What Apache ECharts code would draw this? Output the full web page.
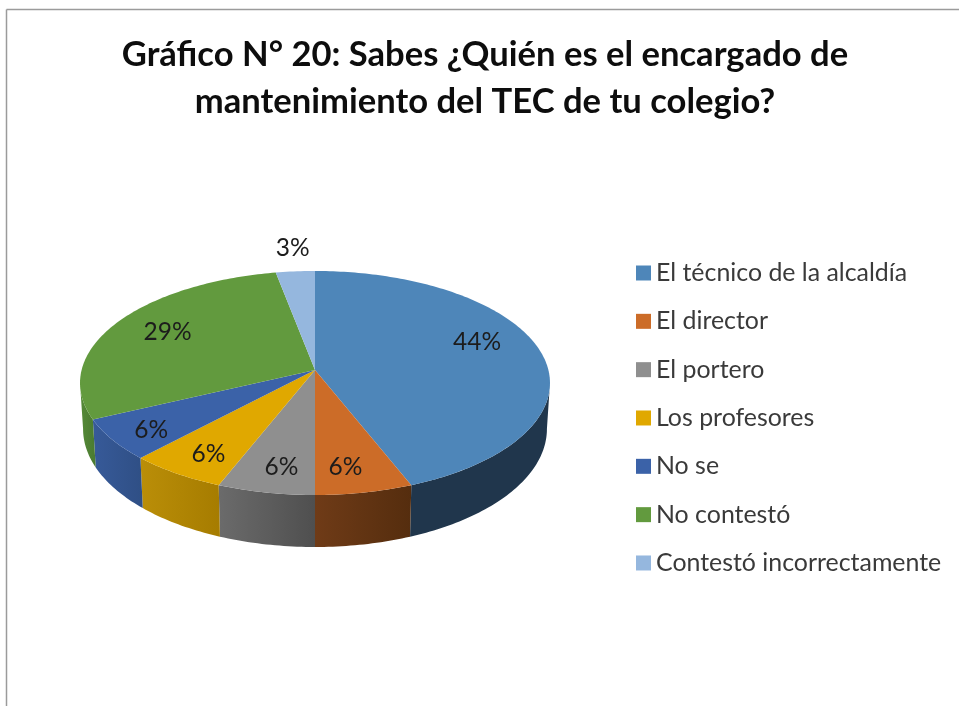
<!DOCTYPE html>
<html>
<head>
<meta charset="utf-8">
<style>html,body{margin:0;padding:0;background:#fff}#c{width:959px;height:706px}</style>
<script src="https://cdn.jsdelivr.net/npm/echarts@6/dist/echarts.min.js"></script>
</head>
<body>
<div id="c"></div>
<script>
const titleText = 'Gráfico N° 20: Sabes ¿Quién es el encargado de\nmantenimiento del TEC de tu colegio?';
const categories = ['El técnico de la alcaldía','El director','El portero','Los profesores','No se','No contestó','Contestó incorrectamente'];
const values = [44, 6, 6, 6, 6, 29, 3];
const topColors = ['#4e86b9','#cc6c28','#8f8f8f','#e0a800','#3b62a8','#629a3e','#95b7de'];
const wallLeft = ['#20364c','#6f3b17','#6b6b6b','#ba8e08','#375a99','#558a38','#6f88a8'];
const wallRight = ['#20364c','#552d0e','#4f4f4f','#a67c00','#2f4f85','#4a7a30','#6f88a8'];
const labelNudge = [[4, -14], [-8, 2], [5, 2], [2, 3], [-4, 5], [-7, -4], [2, 0]];

const total = values.reduce((a, b) => a + b, 0);
const cx = 315, cy = 370, rx = 233.4, ry = 110.5, persp = 0.116;
const sideAngle = Math.acos(-persp);

function project(theta, r) {
  const u = Math.sin(theta) * r, v = -Math.cos(theta) * r;
  const d = 1 - persp * v;
  return [cx + rx * u / d, cy + ry * v / d];
}
function projectBottom(theta) {
  const p = project(theta, 1), v = -Math.cos(theta);
  return [cx + (p[0] - cx) * 0.987, p[1] + 45 + 7 * Math.max(v, 0)];
}
function arc(a0, a1, fn) {
  const n = Math.max(2, Math.ceil((a1 - a0) / (Math.PI / 180)));
  const pts = [];
  for (let i = 0; i <= n; i++) pts.push(fn(a0 + (a1 - a0) * i / n));
  return pts;
}
function labelRadius(v) { return v < 5 ? 1.27 : (v > 20 ? 0.7 : 0.8); }

function makeRender(idx) {
  const before = values.slice(0, idx).reduce((a, b) => a + b, 0);
  return function (params, api) {
    const val = api.value(0);
    const a0 = before / total * Math.PI * 2;
    const a1 = (before + val) / total * Math.PI * 2;
    const mid = (a0 + a1) / 2;
    const lp = project(mid, labelRadius(val));
    const children = [];
    const w0 = Math.max(a0, sideAngle), w1 = Math.min(a1, Math.PI * 2 - sideAngle);
    if (w1 > w0) {
      children.push({ type: 'polygon', z2: 1,
        shape: { points: arc(w0, w1, t => project(t, 1)).concat(arc(w0, w1, projectBottom).reverse()) },
        style: { fill: { type: 'linear', x: 0, y: 0, x2: 1, y2: 0,
          colorStops: [{ offset: 0, color: wallLeft[idx] }, { offset: 1, color: wallRight[idx] }] } } });
    }
    children.push({ type: 'polygon', z2: 10,
      shape: { points: [[cx, cy]].concat(arc(a0, a1, t => project(t, 1))) },
      style: { fill: topColors[idx] } });
    children.push({ type: 'text', z2: 20, x: lp[0] + labelNudge[idx][0], y: lp[1] + labelNudge[idx][1],
      style: { text: val + '%', fill: '#1c1c1c', font: '24.5px Lato', align: 'center', verticalAlign: 'middle' } });
    return { type: 'group', children };
  };
}

const chart = echarts.init(document.getElementById('c'), null, { renderer: 'canvas', width: 959, height: 706 });
chart.setOption({
  animation: false,
  backgroundColor: '#ffffff',
  title: {
    text: titleText, left: 485, top: 31, textAlign: 'center', padding: 0,
    textStyle: { fontFamily: 'Lato', fontWeight: 'bold', fontSize: 34.6, lineHeight: 47, color: '#0d0d0d' }
  },
  legend: {
    orient: 'vertical', left: 636, top: 260.5, padding: 0, itemWidth: 15, itemHeight: 15, itemGap: 23.33,
    icon: 'rect', data: categories,
    textStyle: { fontFamily: 'Lato', fontSize: 24.9, color: '#3a3a3a', lineHeight: 24 },
    itemStyle: { borderWidth: 0 }, selectedMode: false
  },
  graphic: [
    { type: 'line', shape: { x1: 6.5, y1: 9.5, x2: 959, y2: 9.5 }, style: { stroke: '#9b9b9b', lineWidth: 1.5 } },
    { type: 'line', shape: { x1: 6.5, y1: 9.5, x2: 6.5, y2: 706 }, style: { stroke: '#9b9b9b', lineWidth: 1.5 } }
  ],
  series: categories.map((name, i) => ({
    type: 'custom', name, coordinateSystem: 'none', silent: true,
    itemStyle: { color: topColors[i] },
    data: [[values[i]]],
    renderItem: makeRender(i)
  }))
});
</script>
</body>
</html>
